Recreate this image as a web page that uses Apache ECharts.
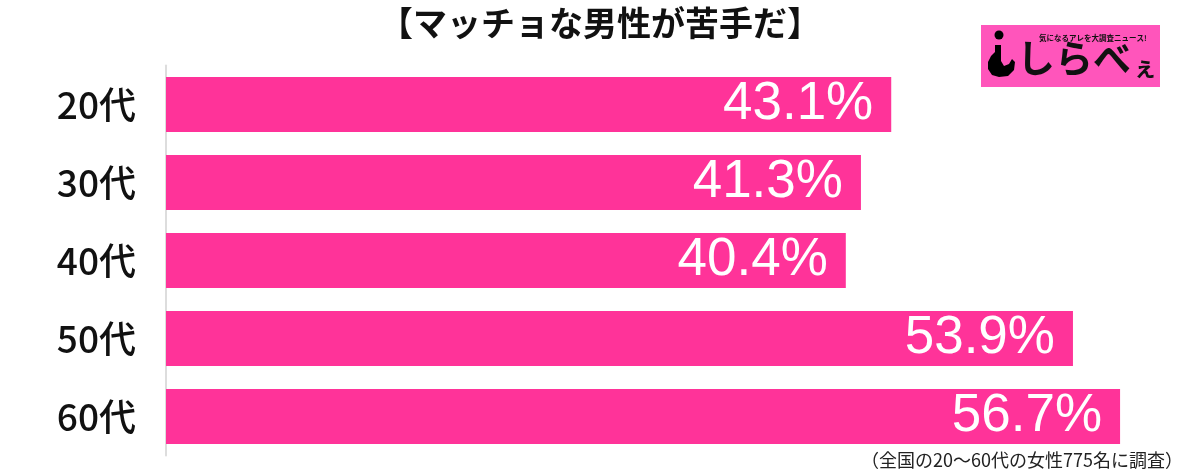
<!DOCTYPE html>
<html><head><meta charset="utf-8">
<script src="https://cdn.jsdelivr.net/npm/echarts@6/dist/echarts.min.js"></script>
<style>html,body{margin:0;padding:0;background:#fff}#c{width:1200px;height:471px}</style>
</head><body><div id="c"></div>
<script>
const categories = ['20代','30代','40代','50代','60代'];
const values = [43.1, 41.3, 40.4, 53.9, 56.7];
const titleText = '【マッチョな男性が苦手だ】';
const noteText = '（全国の20〜60代の女性775名に調査）';

const chart = echarts.init(document.getElementById('c'));
chart.setOption({
  animation: false,
  backgroundColor: '#fff',
  title: {
    text: titleText, left: 'center', top: 1,
    textStyle: {fontSize: 34, fontWeight: 'bold', color: '#111', fontFamily: 'Noto Sans CJK JP'}
  },
  grid: {left: 166, right: 24.4, top: 65.5, bottom: 15.5, containLabel: false},
  xAxis: {type: 'value', min: 0, max: 60, show: false},
  yAxis: {
    type: 'category', data: categories, inverse: true,
    axisLine: {show: true, lineStyle: {color: '#dddddd', width: 2}},
    axisTick: {show: false},
    axisLabel: {margin: 30, fontSize: 37, color: '#111', fontFamily: 'Noto Sans CJK JP', fontWeight: 500}
  },
  series: [{
    type: 'bar', data: values, barWidth: 55,
    itemStyle: {color: '#ff3399'},
    label: {
      show: true, position: 'insideRight', distance: 18,
      formatter: p => p.value.toFixed(1) + '%',
      color: '#fff', fontSize: 53, fontFamily: 'Liberation Sans'
    }
  }],
  graphic: [
    {type: 'text', right: 17, bottom: 2, style: {text: noteText, fontSize: 18, fill: '#222', fontFamily: 'Noto Sans CJK JP'}},
    {type: 'group', x: 981, y: 25, children: [
      {type: 'rect', shape: {x: 0, y: 0, width: 179, height: 62}, style: {fill: '#ff55bb'}},
      {type: 'circle', shape: {cx: 18, cy: 10, r: 4.5}, style: {fill: '#000'}},
      {type: 'polygon', shape: {points: [[14,20],[20,20],[20,36],[23,41],[28,39],[31,34],[34,37],[33,45],[27,51],[18,52],[11,50],[7,44],[7,37],[10,31],[14,27]]}, style: {fill: '#000'}},
      {type: 'text', x: 58, y: 9, style: {text: '気になるアレを大調査ニュース!', fontSize: 7.5, fontWeight: 'bold', fill: '#111', fontFamily: 'Noto Sans CJK JP'}},
      {type: 'text', x: 36, y: 14, style: {text: 'しらべ', fontSize: 38, fontWeight: 'bold', fill: '#111', fontFamily: 'Noto Sans CJK JP'}},
      {type: 'text', x: 152, y: 30, style: {text: 'ぇ', fontSize: 24, fontWeight: 'bold', fill: '#111', fontFamily: 'Noto Sans CJK JP'}}
    ]}
  ]
});
</script></body></html>
